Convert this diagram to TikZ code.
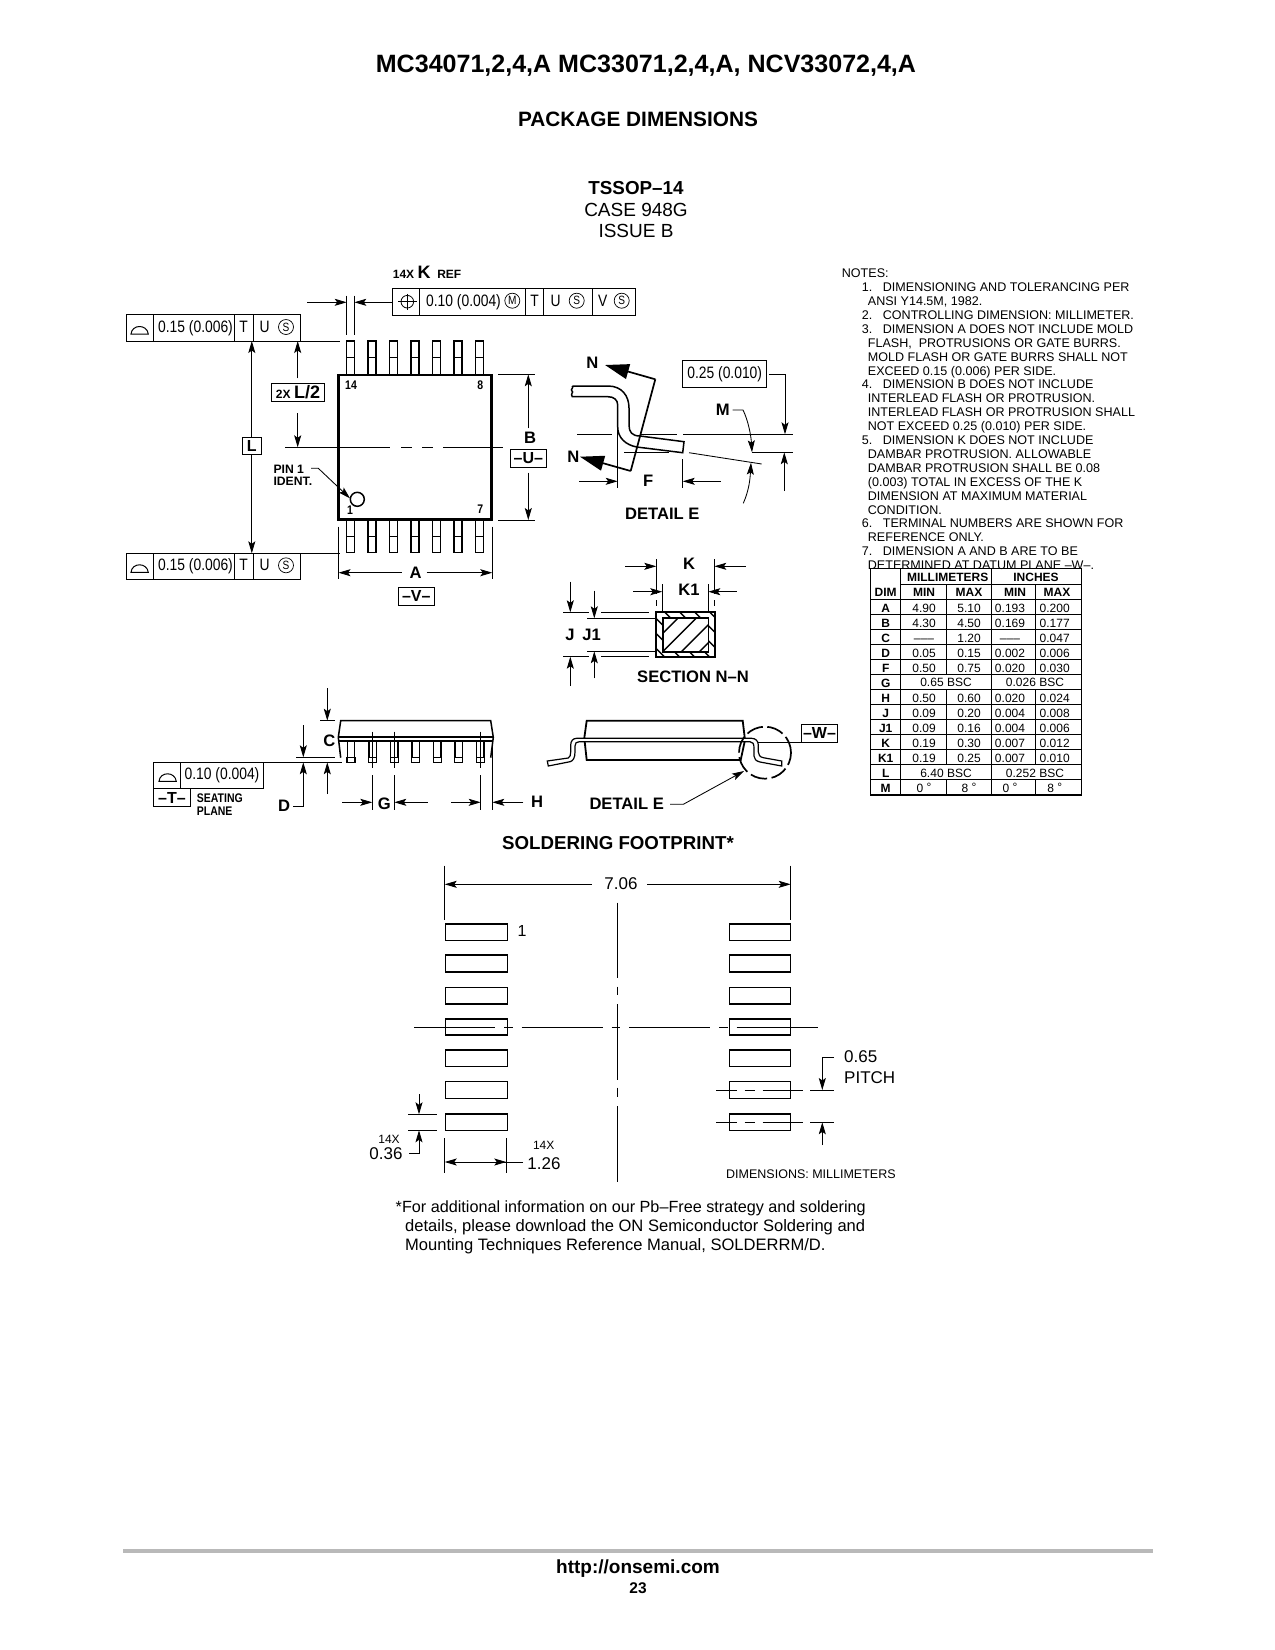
\documentclass[tikz,border=0pt]{standalone}
\usepackage{fontspec}
\setmainfont{Liberation Sans}
\newfontfamily\narrowfont[FakeStretch=0.84]{Liberation Sans}
\usetikzlibrary{arrows.meta}
\newcommand{\fsz}[1]{\fontsize{#1}{#1}\selectfont}
\tikzset{
	dim/.style={-{Stealth[length=12pt,width=7pt,inset=2.5pt]},line width=.85pt},
	bigtip/.style={-{Triangle[length=24pt,width=15pt]},line width=1.7pt},
	thin line/.style={line width=.85pt},
	frm/.style={line width=1pt},
	pkg/.style={line width=1.5pt},
	txt/.style={inner sep=0pt,anchor=mid,yshift={-0.18pt*#1},font=\fsz{#1}},
	blab/.style={inner sep=0pt,anchor=mid,yshift={-0.18pt*#1},font=\fsz{#1}\bfseries},
	nlab/.style={inner sep=0pt,anchor=mid,yshift={-0.18pt*#1},font=\fsz{#1}\narrowfont},
	nblab/.style={inner sep=0pt,anchor=mid,yshift={-0.18pt*#1},font=\fsz{#1}\narrowfont\bfseries},
	circ/.style={draw,circle,line width=.7pt,minimum size=15pt,inner sep=0pt,font=\fsz{12}\narrowfont},
	boxlab/.style={draw,line width=1pt,inner sep=0pt,font=\fsz{16}\bfseries}
}
\begin{document}
\begin{tikzpicture}[x=1pt,y=-1pt]
	\useasboundingbox (0,0) rectangle (1275,1650);
	\node[blab=25.05] (doctitle) at (646,65) {MC34071,2,4,A MC33071,2,4,A, NCV33072,4,A};
	\node[blab=20.8] (pkgtitle) at (638,120) {PACKAGE DIMENSIONS};
	\node[blab=18.8] (casename) at (636,188) {TSSOP–14};
	\node[txt=19] (casenum) at (636,210) {CASE 948G};
	\node[txt=19] (caseissue) at (636,231) {ISSUE B};

	\draw[line width=2.6pt] (338.7,375) rectangle (491.3,519.3);
	\foreach \i in {0,...,6} {
		\draw[pkg] ({346.7+21.5*\i},341) rectangle ({354.5+21.5*\i},375);
		\draw[thin line] ({346.7+21.5*\i},357.3) -- ({354.5+21.5*\i},357.3);
		\draw[pkg] ({346.7+21.5*\i},519.5) rectangle ({354.5+21.5*\i},552.7);
		\draw[thin line] ({346.7+21.5*\i},536.7) -- ({354.5+21.5*\i},536.7);
	}
	\node[nblab=12.5] (pin14) at (351,385) {14};
	\node[nblab=12.5] (pin8) at (480.3,385) {8};
	\node[nblab=12.5] (pin1) at (350,510) {1};
	\node[nblab=12.5] (pin7) at (480.3,509) {7};
	\draw[line width=1.5pt] (357.3,499.3) circle (7pt);
	\node[blab=12.2,anchor=mid west] (pinone) at (273.3,468.7) {PIN 1};
	\node[blab=12.2,anchor=mid west] (pinident) at (273.3,480.7) {IDENT.};
	\draw[dim] (311,468.3) -- (318.3,468.3) -- (350,498.3);
	\draw[thin line] (285,447.3) -- (390,447.3);
	\draw[thin line] (401,447.3) -- (411.7,447.3);
	\draw[thin line] (422.3,447.3) -- (432.7,447.3);
	\draw[thin line] (443.3,447.3) -- (502.7,447.3);

	\draw[frm] (126.3,314.7) rectangle (300.7,341);
	\draw[frm] (153.3,314.7) -- (153.3,341);
	\draw[frm] (234.3,314.7) -- (234.3,341);
	\draw[frm] (253.3,314.7) -- (253.3,341);
	\draw[frm] (131,334) .. controls (132,324) and (147,324) .. (148.3,334) -- cycle;
	\node[nlab=16.5] (topval) at (195.5,326.5) {0.15 (0.006)};
	\node[nlab=16.5] (topt) at (243.7,326.5) {T};
	\node[nlab=16.5] (topu) at (264.7,326.5) {U};
	\node[circ] (tops) at (286,327) {S};
	\draw[thin line] (300.7,341) -- (340,341);

	\draw[frm] (126.3,553.3) rectangle (300.7,579.3);
	\draw[frm] (153.3,553.3) -- (153.3,579.3);
	\draw[frm] (234.3,553.3) -- (234.3,579.3);
	\draw[frm] (253.3,553.3) -- (253.3,579.3);
	\draw[frm] (131,572.3) .. controls (132,562.3) and (147,562.3) .. (148.3,572.3) -- cycle;
	\node[nlab=16.5] (botval) at (195.5,565) {0.15 (0.006)};
	\node[nlab=16.5] (bott) at (243.7,565) {T};
	\node[nlab=16.5] (botu) at (264.7,565) {U};
	\node[circ] (bots) at (286,565.3) {S};
	\draw[thin line] (300.7,553.3) -- (340,553.3);

	\node[blab=12,anchor=mid west] (kcount) at (392.7,273.5) {14X \fsz{18}K\fsz{12}~ REF};
	\draw[frm] (392.7,288.7) rectangle (635.7,315);
	\draw[frm] (419.3,288.7) -- (419.3,315);
	\draw[frm] (525.7,288.7) -- (525.7,315);
	\draw[frm] (543.3,288.7) -- (543.3,315);
	\draw[frm] (592.3,288.7) -- (592.3,315);
	\draw[line width=.8pt] (407.3,301.7) circle (6.3pt);
	\draw[line width=.8pt] (398,301.7) -- (416.5,301.7);
	\draw[line width=.8pt] (407.3,293.5) -- (407.3,310);
	\node[nlab=16.5] (kval) at (463.5,300.5) {0.10 (0.004)};
	\node[circ] (km) at (512.3,300.7) {M};
	\node[nlab=16.5] (kt) at (534.5,300.5) {T};
	\node[nlab=16.5] (ku) at (555.7,300.5) {U};
	\node[circ] (ks) at (576.7,300.7) {S};
	\node[nlab=16.5] (kv) at (602.7,300.5) {V};
	\node[circ] (ks2) at (621.7,300.7) {S};
	\draw[dim] (307.3,302.3) -- (346.7,302.3);
	\draw[dim] (392.7,302.3) -- (354.3,302.3);
	\draw[thin line] (346.7,295.7) -- (346.7,335);
	\draw[thin line] (354.3,295.7) -- (354.3,335);

	\node[boxlab,minimum width=19pt,minimum height=17.7pt] (lbox) at (251.8,446) {L};
	\draw[dim] (lbox) -- (251.8,341);
	\draw[dim] (lbox) -- (251.8,553.3);
	\node[boxlab,minimum width=53.4pt,minimum height=18.4pt] (halfl) at (298,392.5) {\fsz{12}2X \fsz{18}L/2};
	\draw[dim] (297.7,378.3) -- (297.7,341);
	\draw[dim] (297.7,413.3) -- (297.7,447.3);

	\draw[thin line] (498.3,374.3) -- (535,374.3);
	\draw[thin line] (498.3,520) -- (535,520);
	\draw[dim] (528.3,428.3) -- (528.3,374.3);
	\draw[dim] (528.3,472.7) -- (528.3,520);
	\node[blab=16.6] (bname) at (530,438.3) {B};
	\node[boxlab,minimum width=36pt,minimum height=18pt] (ubox) at (528.3,458.3) {–U–};

	\draw[thin line] (338.5,526.7) -- (338.5,579.3);
	\draw[thin line] (492.3,526.7) -- (492.3,579.3);
	\draw[dim] (401.7,572.7) -- (338.5,572.7);
	\draw[dim] (426.7,572.7) -- (492.3,572.7);
	\node[blab=16.6] (aname) at (415.7,572.7) {A};
	\node[boxlab,minimum width=36pt,minimum height=18pt] (vbox) at (416.3,596) {–V–};

	\draw[pkg] (572.3,386) -- (608,386) .. controls (622,386) and (629,396) .. (629,408) -- (629,425) .. controls (629,432) and (632,436) .. (640,436) -- (684,441.7) -- (682.7,452.7) -- (636.7,447) .. controls (626,445) and (617.7,438) .. (617.7,427) -- (617.7,405) .. controls (617.7,400) and (614,396.7) .. (608,396.7) -- (572.3,396.7) .. controls (570,394) and (574,392) .. (572,391) .. controls (570,389.5) and (574,388) .. (572.3,386);
	\draw[bigtip] (655.3,379.3) -- (605,365);
	\draw[bigtip] (630.7,471) -- (580,456.7);
	\draw[line width=1.7pt] (655.3,379.3) -- (630.7,471);
	\node[blab=16.6] (ntop) at (592.3,363.3) {N};
	\node[blab=16.6] (nbot) at (573.3,457.3) {N};
	\node[blab=16.6] (fname) at (648.3,480.7) {F};
	\draw[thin line] (577.3,434.3) -- (611.7,434.3);
	\draw[thin line] (640,434.3) -- (676.7,434.3);
	\draw[thin line] (683.3,434.3) -- (793.3,434.3);
	\draw[thin line] (624,452.3) -- (669.3,452.3);
	\draw[thin line] (752,452.3) -- (792.7,452.3);
	\draw[thin line] (689,452.7) -- (761.7,464);
	\draw[thin line] (617.7,427) -- (617.7,488.3);
	\draw[thin line] (682.7,459.3) -- (682.7,488.3);
	\draw[dim] (579.3,481.3) -- (617.7,481.3);
	\draw[dim] (720.7,481.3) -- (682.7,481.3);
	\node[draw,frm,inner sep=0pt,minimum width=84pt,minimum height=27pt,font=\fsz{16.5}\narrowfont] (flatbox) at (724.7,373.8) {0.25 (0.010)};
	\draw[dim] (769.3,374) -- (785,374) -- (785,434.3);
	\draw[dim] (784.3,491) -- (784.3,452.3);
	\node[blab=16.6] (mname) at (722.7,410) {M};
	\draw[dim] (732.7,410) -- (743,410) .. controls (748,420) and (751,435) .. (752,452.3);
	\draw[dim] (743.3,503.3) .. controls (749,490) and (750,480) .. (751,462.7);
	\node[blab=16.6] (detailname) at (662.3,514.3) {DETAIL E};

	\draw[line width=1.8pt] (656,612.3) rectangle (715,656.7);
	\draw[line width=1.6pt] (662.7,617.7) rectangle (708.3,651.7);
	\begin{scope}
		\clip (662.7,617.7) rectangle (708.3,651.7);
		\foreach \s in {1296,1314.3,1333,1351} {
			\draw[line width=1.4pt] ({\s-600},600) -- ({\s-670},670);
		}
	\end{scope}
	\begin{scope}[even odd rule]
		\clip (656,612.3) rectangle (715,656.7) (662.7,617.7) rectangle (708.3,651.7);
		\foreach \d in {7.7,22.7,...,112.7} {
			\draw[line width=1.4pt] ({600+\d},600) -- ({670+\d},670);
		}
	\end{scope}
	\draw[thin line] (656,559.3) -- (656,594);
	\draw[thin line] (656,600) -- (656,606);
	\draw[thin line] (714.3,559.3) -- (714.3,594);
	\draw[thin line] (714.3,600) -- (714.3,606);
	\draw[thin line] (662.3,584) -- (662.3,611.7);
	\draw[thin line] (708.3,584) -- (708.3,611.7);
	\draw[dim] (625,566.3) -- (656.3,566.3);
	\draw[dim] (745.7,566.3) -- (714.3,566.3);
	\draw[dim] (633.3,591.7) -- (662.3,591.7);
	\draw[dim] (736.7,591.7) -- (708.3,591.7);
	\node[blab=16.6] (kname) at (689,564.3) {K};
	\node[blab=16.6] (konename) at (689,590.3) {K1};
	\draw[thin line] (563.3,612.3) -- (589.3,612.3);
	\draw[thin line] (601,612.3) -- (649,612.3);
	\draw[thin line] (563.3,656.7) -- (589.3,656.7);
	\draw[thin line] (601,656.7) -- (649,656.7);
	\draw[thin line] (587.3,618.3) -- (655,618.3);
	\draw[thin line] (587.3,651.3) -- (655,651.3);
	\draw[dim] (570.3,581.7) -- (570.3,612.3);
	\draw[dim] (570.3,686) -- (570.3,656.7);
	\draw[dim] (594.3,590.7) -- (594.3,618.3);
	\draw[dim] (594.3,678.3) -- (594.3,651.3);
	\node[blab=16.6] (jname) at (570,635) {J};
	\node[blab=16.6] (jonename) at (591.7,635) {J1};
	\node[blab=16.6] (sectionname) at (693,677.3) {SECTION N–N};

	\draw[pkg] (340.7,757.7) -- (338.3,737.3) -- (340.7,720.7) -- (490.7,720.7) -- (493.3,737.3) -- (490.7,757.7);
	\draw[line width=1.8pt] (338.3,737.3) -- (493.3,737.3);
	\draw[line width=1.2pt] (338.3,741) -- (493.3,741);
	\foreach \i in {0,...,6} {
		\draw[pkg] ({347.3+21.55*\i},741) -- ({347.3+21.55*\i},757.7);
		\draw[pkg] ({354.7+21.55*\i},741) -- ({354.7+21.55*\i},757.7);
		\draw[line width=1.1pt] ({347+21.55*\i},757.7) rectangle ({355+21.55*\i},762.3);
	}
	\foreach \x in {372.3,394.3,480.7} {
		\draw[thin line] (\x,731.7) -- (\x,768);
		\draw[thin line] (\x,775) -- (\x,810);
	}
	\draw[thin line] (492.3,740) -- (492.3,810);
	\draw[thin line] (320,720.7) -- (335,720.7);
	\draw[thin line] (296,757.3) -- (335,757.3);
	\draw[thin line] (153.3,762.3) -- (341.7,762.3);
	\draw[dim] (327.3,688.3) -- (327.3,720.7);
	\draw[dim] (303.3,725) -- (303.3,757.3);
	\draw[dim] (293.3,806.7) -- (303.3,806.7) -- (303.3,762.3);
	\draw[dim] (327.3,794) -- (327.3,762.3);
	\node[blab=16.6] (cname) at (329.3,741) {C};
	\node[blab=16.6] (dname) at (284,806) {D};
	\draw[frm] (153.3,762.3) rectangle (263.7,788.3);
	\draw[frm] (180.7,762.3) -- (180.7,788.3);
	\draw[frm] (159,781.3) .. controls (160,771.3) and (175,771.3) .. (176.3,781.3) -- cycle;
	\node[nlab=16.5] (seatval) at (222,774) {0.10 (0.004)};
	\node[boxlab,minimum width=37.4pt,minimum height=18.4pt] (tbox) at (172,797.5) {–T–};
	\node[nblab=12.5,anchor=mid west] (seatone) at (196.7,798) {SEATING};
	\node[nblab=12.5,anchor=mid west] (seattwo) at (196.7,811) {PLANE};
	\draw[dim] (342.3,802.3) -- (372.3,802.3);
	\draw[dim] (427.7,802.3) -- (394.3,802.3);
	\draw[dim] (451,802.3) -- (480.7,802.3);
	\draw[dim] (523.3,802.3) -- (492.3,802.3);
	\node[blab=16.6] (gname) at (384.3,804) {G};
	\node[blab=16.6] (hname) at (537,802.3) {H};

	\draw[line width=1.8pt] (586.7,760) -- (584.3,738) -- (586.7,720.7) -- (742.7,720.7) -- (745,740) -- (740.7,760) -- cycle;
	\draw[line width=1.2pt,fill=white] (547.3,761) -- (568.3,758) .. controls (570,757) and (570.7,755) .. (570.7,752) -- (570.7,745) .. controls (570.7,741) and (573,738.3) .. (576.7,738.3) -- (751.7,738.3) .. controls (755.5,738.3) and (758.3,741) .. (758.3,745) -- (758.3,752) .. controls (758.3,755) and (760,757) .. (763.3,757.7) -- (781.7,761) -- (781.7,766) -- (760,762) .. controls (756,761) and (754,759) .. (754,756) -- (754,748) .. controls (754,744) and (753,741.7) .. (750,741.7) -- (579.3,741.7) .. controls (576.5,741.7) and (575,743) .. (575,746) -- (575,752) .. controls (575,758) and (573,761) .. (570,761.7) -- (548.3,766) -- cycle;
	\draw[line width=1.7pt,dash pattern=on 17pt off 4.5pt] (765,752.7) circle (26pt);
	\node[boxlab,minimum width=35.6pt,minimum height=18pt] (wbox) at (819.5,733.3) {–W–};
	\draw[thin line] (758,742.3) -- (801.7,742.3);
	\node[blab=16.6] (detailref) at (626.7,804.3) {DETAIL E};
	\draw[dim] (670,804.3) -- (683.3,804.3) -- (744,771);

	\node[blab=18.7] (solderhead) at (618,843.5) {SOLDERING FOOTPRINT*};
	\foreach \y/\h in {924/16.7,955/17,987.7/16.3,1019/16,1050/16.7,1081.7/16.6,1114/16.7} {
		\draw[pkg] (445.5,\y) rectangle (507.3,{\y+\h});
		\draw[pkg] (729.7,\y) rectangle (790.3,{\y+\h});
	}
	\draw[thin line] (444.7,865.7) -- (444.7,920);
	\draw[thin line] (790.7,865.7) -- (790.7,920);
	\node[txt=17] (widthval) at (621,883.5) {7.06};
	\draw[dim] (591.7,884.3) -- (444.7,884.3);
	\draw[dim] (647,884.3) -- (790.7,884.3);
	\node[txt=16,anchor=mid west] (padone) at (517.5,931) {1};
	\draw[thin line] (617.3,902.7) -- (617.3,978.3);
	\draw[thin line] (617.3,986.7) -- (617.3,995);
	\draw[thin line] (617.3,1004) -- (617.3,1080);
	\draw[thin line] (617.3,1087.7) -- (617.3,1096.7);
	\draw[thin line] (617.3,1106) -- (617.3,1181.7);
	\draw[thin line] (414,1027.3) -- (495,1027.3);
	\draw[thin line] (504,1027.3) -- (512.7,1027.3);
	\draw[thin line] (521.7,1027.3) -- (602.7,1027.3);
	\draw[thin line] (611.7,1027.3) -- (620.3,1027.3);
	\draw[thin line] (629.3,1027.3) -- (710,1027.3);
	\draw[thin line] (719.3,1027.3) -- (728,1027.3);
	\draw[thin line] (736.7,1027.3) -- (817.7,1027.3);
	\foreach \y in {1090,1122.3} {
		\draw[thin line] (716,\y) -- (737,\y);
		\draw[thin line] (744.5,\y) -- (755,\y);
		\draw[thin line] (762.5,\y) -- (802.7,\y);
		\draw[thin line] (810,\y) -- (833.5,\y);
	}
	\node[txt=17,anchor=mid west] (pitchval) at (844,1056.7) {0.65};
	\node[txt=17,anchor=mid west] (pitchname) at (844,1078) {PITCH};
	\draw[dim] (834,1057.3) -- (822.3,1057.3) -- (822.3,1090);
	\draw[dim] (822.3,1145) -- (822.3,1122.3);
	\draw[thin line] (408,1114.3) -- (437,1114.3);
	\draw[thin line] (408,1130.3) -- (437,1130.3);
	\node[txt=17] (padhval) at (386,1153.3) {0.36};
	\node[txt=12] (padhcount) at (389,1139) {14X};
	\draw[dim] (419,1094) -- (419,1114.3);
	\draw[dim] (409.3,1153.3) -- (419,1153.3) -- (419,1130.3);
	\draw[thin line] (444.7,1138) -- (444.7,1173);
	\draw[thin line] (506.3,1138) -- (506.3,1173);
	\node[txt=17] (padwval) at (544,1163.3) {1.26};
	\node[txt=12] (padwcount) at (543.7,1145) {14X};
	\draw[dim] (523,1162) -- (444.7,1162);
	\draw[dim] (470,1162) -- (506.3,1162);
	\node[txt=12.5,anchor=mid west] (unitsnote) at (726,1173.3) {DIMENSIONS: MILLIMETERS};

	\node[txt=16.2,anchor=mid west] (footone) at (395.5,1207) {*For additional information on our Pb–Free strategy and soldering};
	\node[txt=16.55,anchor=mid west] (foottwo) at (405,1226) {details, please download the ON Semiconductor Soldering and};
	\node[txt=16.55,anchor=mid west] (footthree) at (405,1245) {Mounting Techniques Reference Manual, SOLDERRM/D.};

	\foreach \x/\ltext [count=\k from 0] in {
		841.7/{NOTES:},
		861.7/{\makebox[21pt][l]{1.}DIMENSIONING AND TOLERANCING PER},
		867.7/{ANSI Y14.5M, 1982.},
		861.7/{\makebox[21pt][l]{2.}CONTROLLING DIMENSION: MILLIMETER.},
		861.7/{\makebox[21pt][l]{3.}DIMENSION A DOES NOT INCLUDE MOLD},
		867.7/{FLASH,~ PROTRUSIONS OR GATE BURRS.},
		867.7/{MOLD FLASH OR GATE BURRS SHALL NOT},
		867.7/{EXCEED 0.15 (0.006) PER SIDE.},
		861.7/{\makebox[21pt][l]{4.}DIMENSION B DOES NOT INCLUDE},
		867.7/{INTERLEAD FLASH OR PROTRUSION.},
		867.7/{INTERLEAD FLASH OR PROTRUSION SHALL},
		867.7/{NOT EXCEED 0.25 (0.010) PER SIDE.},
		861.7/{\makebox[21pt][l]{5.}DIMENSION K DOES NOT INCLUDE},
		867.7/{DAMBAR PROTRUSION. ALLOWABLE},
		867.7/{DAMBAR PROTRUSION SHALL BE 0.08},
		867.7/{(0.003) TOTAL IN EXCESS OF THE K},
		867.7/{DIMENSION AT MAXIMUM MATERIAL},
		867.7/{CONDITION.},
		861.7/{\makebox[21pt][l]{6.}TERMINAL NUMBERS ARE SHOWN FOR},
		867.7/{REFERENCE ONLY.},
		861.7/{\makebox[21pt][l]{7.}DIMENSION A AND B ARE TO BE},
		867.7/{DETERMINED AT DATUM PLANE –W–.}} {
		\node[txt=12.55,anchor=mid west] (noteline\k) at (\x,{272.8+13.9*\k}) {\ltext};
	}

	\draw[frm] (870.7,568.3) rectangle (1081.7,795);
	\draw[frm] (900.7,568.3) -- (900.7,795);
	\draw[frm] (991,568.3) -- (991,795);
	\draw[frm] (900.7,584.3) -- (1081.7,584.3);
	\foreach \i in {0,...,13} {
		\draw[frm] (870.7,{599.3+15.05*\i}) -- (1081.7,{599.3+15.05*\i});
	}
	\foreach \x in {946.3,1035.7} {
		\draw[frm] (\x,584.3) -- (\x,674.5);
		\draw[frm] (\x,689.6) -- (\x,764.9);
		\draw[frm] (\x,780) -- (\x,795);
	}
	\node[blab=12] (headmm) at (947.7,577) {MILLIMETERS};
	\node[blab=12] (headinch) at (1036,577) {INCHES};
	\node[blab=12] (headdim) at (885.7,592) {DIM};
	\node[blab=12] (headmina) at (924,592) {MIN};
	\node[blab=12] (headmaxa) at (969,592) {MAX};
	\node[blab=12] (headminb) at (1015,592) {MIN};
	\node[blab=12] (headmaxb) at (1057,592) {MAX};
	\foreach \d/\ma/\mb/\ia/\ib [count=\r from 0] in {
		A/4.90/5.10/0.193/0.200,
		B/4.30/4.50/0.169/0.177,
		C/–––/1.20/–––/0.047,
		D/0.05/0.15/0.002/0.006,
		F/0.50/0.75/0.020/0.030,
		G///,
		H/0.50/0.60/0.020/0.024,
		J/0.09/0.20/0.004/0.008,
		J1/0.09/0.16/0.004/0.006,
		K/0.19/0.30/0.007/0.012,
		K1/0.19/0.25/0.007/0.010,
		L///,
		M/{0 \raisebox{1pt}{°}}/{8 \raisebox{1pt}{°}}/{0 \raisebox{1pt}{°}}/{8 \raisebox{1pt}{°}}} {
		\node[blab=12] (dimname\r) at (885.7,{607.2+15.05*\r}) {\d};
		\node[txt=12] (mmin\r) at (924,{607.2+15.05*\r}) {\ma};
		\node[txt=12] (mmax\r) at (969,{607.2+15.05*\r}) {\mb};
		\node[txt=12] (imin\r) at (1010,{607.2+15.05*\r}) {\ia};
		\node[txt=12] (imax\r) at (1054.7,{607.2+15.05*\r}) {\ib};
	}
	\node[txt=12] (gmm) at (946,682) {0.65 BSC};
	\node[txt=12] (ginch) at (1035,682) {0.026 BSC};
	\node[txt=12] (lmm) at (946,772.4) {6.40 BSC};
	\node[txt=12] (linch) at (1035,772.4) {0.252 BSC};

	\draw[line width=4pt,gray!55] (123,1551.3) -- (1153,1551.3);
	\node[blab=19] (footurl) at (638,1567) {http://onsemi.com};
	\node[blab=15.5] (footpage) at (638,1588.5) {23};
\end{tikzpicture}
\end{document}
